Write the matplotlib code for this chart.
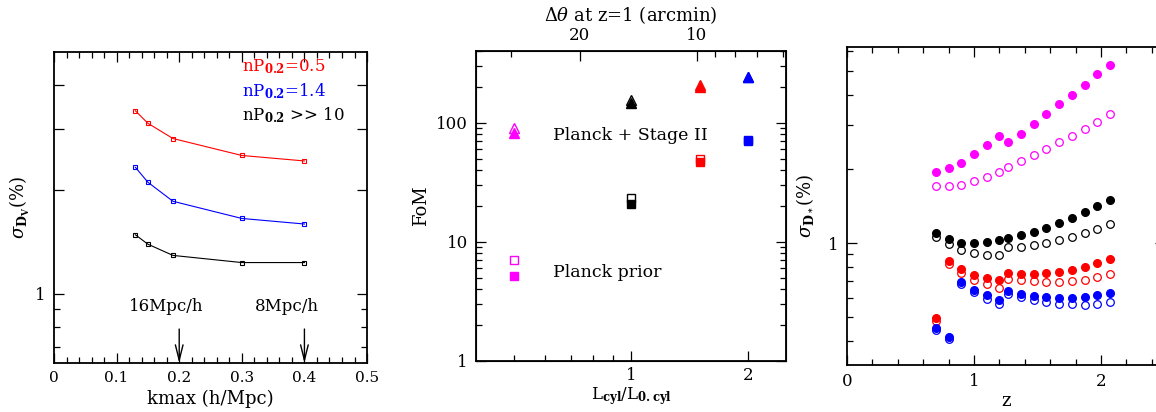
import numpy as np
import matplotlib
matplotlib.use("Agg")
import matplotlib.pyplot as plt
from matplotlib.ticker import FixedLocator, NullFormatter, FixedFormatter

plt.rcParams['font.family'] = ['DejaVu Serif']
plt.rcParams['mathtext.fontset'] = 'dejavuserif'
plt.rcParams['font.size'] = 11
plt.rcParams['axes.labelsize'] = 13

RED, BLUE, MAG, BLK = '#ff0000', '#0000ff', '#ff00ff', '#000000'

# panel 1: sigma_Dv vs kmax
kmax = [0.13, 0.15, 0.19, 0.3, 0.4]
sig_np05 = [3.38, 3.11, 2.81, 2.51, 2.42]
sig_np14 = [2.32, 2.10, 1.85, 1.65, 1.59]
sig_np10 = [1.48, 1.39, 1.29, 1.23, 1.23]
np_labels = [r'nP$_{\mathbf{0.2}}$=0.5', r'nP$_{\mathbf{0.2}}$=1.4', r'nP$_{\mathbf{0.2}}$ >> 10']
scale_k = [0.2, 0.4]
scale_labels = ['16Mpc/h', '8Mpc/h']

# panel 2: FoM vs L_cyl/L_0,cyl
fom_L = [0.5, 1.0, 1.5, 2.0]
fom_col = [MAG, BLK, RED, BLUE]
fom_tri_open = [90, 156, 208, 242]
fom_tri_fill = [82, 146, 200, 242]
fom_sq_open = [7.0, 23.3, 49.8, 72]
fom_sq_fill = [5.2, 20.9, 47, 70]
theta_major = [20, 10]
theta_minor = [30, 9, 8, 7, 6]
theta_const = 14.75

# panel 3: sigma_D* vs z
z = [0.7, 0.8, 0.9, 1.0, 1.1, 1.2, 1.27, 1.37, 1.47, 1.57, 1.67, 1.77, 1.87, 1.97, 2.07]
mag_fill = [1.94, 2.02, 2.12, 2.29, 2.49, 2.73, 2.57, 2.78, 3.05, 3.34, 3.66, 3.98, 4.38, 4.84, 5.29]
mag_open = [1.70, 1.70, 1.72, 1.78, 1.85, 1.94, 2.04, 2.15, 2.27, 2.40, 2.56, 2.72, 2.90, 3.10, 3.34]
blk_fill = [1.10, 1.04, 1.00, 0.997, 1.007, 1.032, 1.052, 1.082, 1.108, 1.15, 1.206, 1.263, 1.33, 1.41, 1.50]
blk_open = [1.058, 0.988, 0.934, 0.908, 0.897, 0.894, 0.960, 0.967, 0.981, 1.0, 1.025, 1.058, 1.098, 1.14, 1.19]
red_fill = [0.496, 0.843, 0.782, 0.744, 0.721, 0.710, 0.755, 0.746, 0.746, 0.753, 0.765, 0.78, 0.799, 0.827, 0.858]
red_open = [0.484, 0.825, 0.755, 0.710, 0.679, 0.659, 0.717, 0.705, 0.70, 0.697, 0.698, 0.70, 0.71, 0.726, 0.746]
blu_fill = [0.450, 0.414, 0.697, 0.647, 0.613, 0.589, 0.641, 0.619, 0.607, 0.602, 0.60, 0.60, 0.603, 0.613, 0.629]
blu_open = [0.443, 0.407, 0.684, 0.632, 0.592, 0.567, 0.623, 0.602, 0.585, 0.574, 0.567, 0.565, 0.563, 0.567, 0.574]

fig = plt.figure(figsize=(11.56, 4.12), dpi=100)


def style(ax):
    for s in ax.spines.values():
        s.set_linewidth(1.3)
    ax.tick_params(which='both', direction='in', top=True, right=True, width=0.9, pad=6)
    ax.tick_params(which='major', length=7)
    ax.tick_params(which='minor', length=4)


# ---- panel 1
ax1 = fig.add_axes([0.0467, 0.1189, 0.2708, 0.7549])
ax1.set_yscale('log')
for vals, c in zip([sig_np05, sig_np14, sig_np10], [RED, BLUE, BLK]):
    ax1.plot(kmax, vals, '-', color=c, lw=0.8, marker='s', ms=3.5, mfc='none', mec=c, mew=0.8)
ax1.set_xlim(0, 0.5)
ax1.set_ylim(0.63, 5.0)
ax1.set_xticks([0, 0.1, 0.2, 0.3, 0.4, 0.5], ['0', '0.1', '0.2', '0.3', '0.4', '0.5'])
ax1.xaxis.set_minor_locator(FixedLocator(np.arange(0, 0.5, 0.02)))
ax1.yaxis.set_major_locator(FixedLocator([1, 2, 3, 4]))
ax1.yaxis.set_major_formatter(FixedFormatter(['1', '', '', '']))
ax1.yaxis.set_minor_locator(FixedLocator([0.7, 0.8, 0.9]))
ax1.yaxis.set_minor_formatter(NullFormatter())
style(ax1)
ax1.tick_params(axis='y', labelsize=12)
for lab, c, yy in zip(np_labels, [RED, BLUE, BLK], [4.52, 3.85, 3.28]):
    ax1.text(0.30, yy, lab, color=c, fontsize=12, va='center', ha='left')
for k, lab, xt in zip(scale_k, scale_labels, [0.18, 0.372]):
    ax1.text(xt, 0.917, lab, ha='center', va='center', fontsize=12)
    ax1.annotate('', xy=(k, 0.63), xytext=(k, 0.79),
                 arrowprops=dict(arrowstyle='->,head_length=1.0,head_width=0.25', lw=1, color='k',
                                 shrinkA=0, shrinkB=0))
ax1.set_xlabel('kmax (h/Mpc)', labelpad=3)
ax1.set_ylabel(r'$\sigma_{\mathbf{D_V}}$(%)', labelpad=2)

# ---- panel 2
ax2 = fig.add_axes([0.4118, 0.1238, 0.2682, 0.7524])
ax2.set_xscale('log')
ax2.set_yscale('log')
for L, c, to, tf, so, sf in zip(fom_L, fom_col, fom_tri_open, fom_tri_fill, fom_sq_open, fom_sq_fill):
    ax2.plot([L], [tf], '^', color=c, ms=6.5)
    ax2.plot([L], [to], '^', mfc='none', mec=c, ms=6.5, mew=1)
    ax2.plot([L], [sf], 's', color=c, ms=5.5)
    ax2.plot([L], [so], 's', mfc='none', mec=c, ms=5.5, mew=1)
ax2.set_xlim(0.4, 2.5)
ax2.set_ylim(1, 400)
ax2.xaxis.set_major_locator(FixedLocator([1, 2]))
ax2.xaxis.set_major_formatter(FixedFormatter(['1', '2']))
ax2.xaxis.set_minor_locator(FixedLocator([0.5, 0.6, 0.7, 0.8, 0.9]))
ax2.xaxis.set_minor_formatter(NullFormatter())
ax2.yaxis.set_major_locator(FixedLocator([1, 10, 100]))
ax2.yaxis.set_major_formatter(FixedFormatter(['1', '10', '100']))
style(ax2)
ax2.tick_params(labelsize=12)
ax2.tick_params(axis='x', pad=4)
ax2.tick_params(top=False, which='both')
ax2.text(0.63, 78, 'Planck + Stage II', va='center', ha='left', fontsize=12.5)
ax2.text(0.63, 5.5, 'Planck prior', va='center', ha='left', fontsize=12.5)
ax2.set_xlabel(r'L$_{\mathbf{cyl}}$/L$_{\mathbf{0.cyl}}$', labelpad=1, fontsize=12)
ax2.set_ylabel('FoM', labelpad=4)

top = ax2.twiny()
top.set_xscale('log')
top.set_xlim(ax2.get_xlim())
top.xaxis.set_major_locator(FixedLocator([theta_const / t for t in theta_major]))
top.xaxis.set_major_formatter(FixedFormatter([str(t) for t in theta_major]))
top.xaxis.set_minor_locator(FixedLocator([theta_const / t for t in theta_minor]))
top.xaxis.set_minor_formatter(NullFormatter())
top.tick_params(which='both', direction='in', width=0.9, pad=5, labelsize=12)
top.tick_params(which='major', length=7)
top.tick_params(which='minor', length=4)
top.set_xlabel(r'$\Delta\theta$ at z=1 (arcmin)', labelpad=4)

# ---- panel 3
ax3 = fig.add_axes([0.7327, 0.1141, 0.2747, 0.7718])
ax3.set_yscale('log')
for f, o, c in [(mag_fill, mag_open, MAG), (blk_fill, blk_open, BLK),
                (red_fill, red_open, RED), (blu_fill, blu_open, BLUE)]:
    ax3.plot(z, o, 'o', mfc='none', mec=c, ms=5.5, mew=0.9)
    ax3.plot(z, f, 'o', color=c, ms=5.5)
ax3.set_xlim(0, 2.5)
ax3.set_ylim(0.32, 6.24)
ax3.set_xticks([0, 1, 2], ['0', '1', '2'])
ax3.xaxis.set_minor_locator(FixedLocator(np.arange(0, 2.5, 0.2)))
ax3.yaxis.set_major_locator(FixedLocator([1]))
ax3.yaxis.set_major_formatter(FixedFormatter(['1']))
ax3.yaxis.set_minor_locator(FixedLocator([0.4, 0.5, 0.6, 0.7, 0.8, 0.9, 2, 3, 4, 5, 6]))
ax3.yaxis.set_minor_formatter(NullFormatter())
style(ax3)
ax3.tick_params(labelsize=12)
ax3.set_xlabel('z', labelpad=1)
ax3.set_ylabel(r'$\sigma_{\mathbf{D_*}}$(%)', labelpad=10)

fig.savefig('out.png', dpi=100)
